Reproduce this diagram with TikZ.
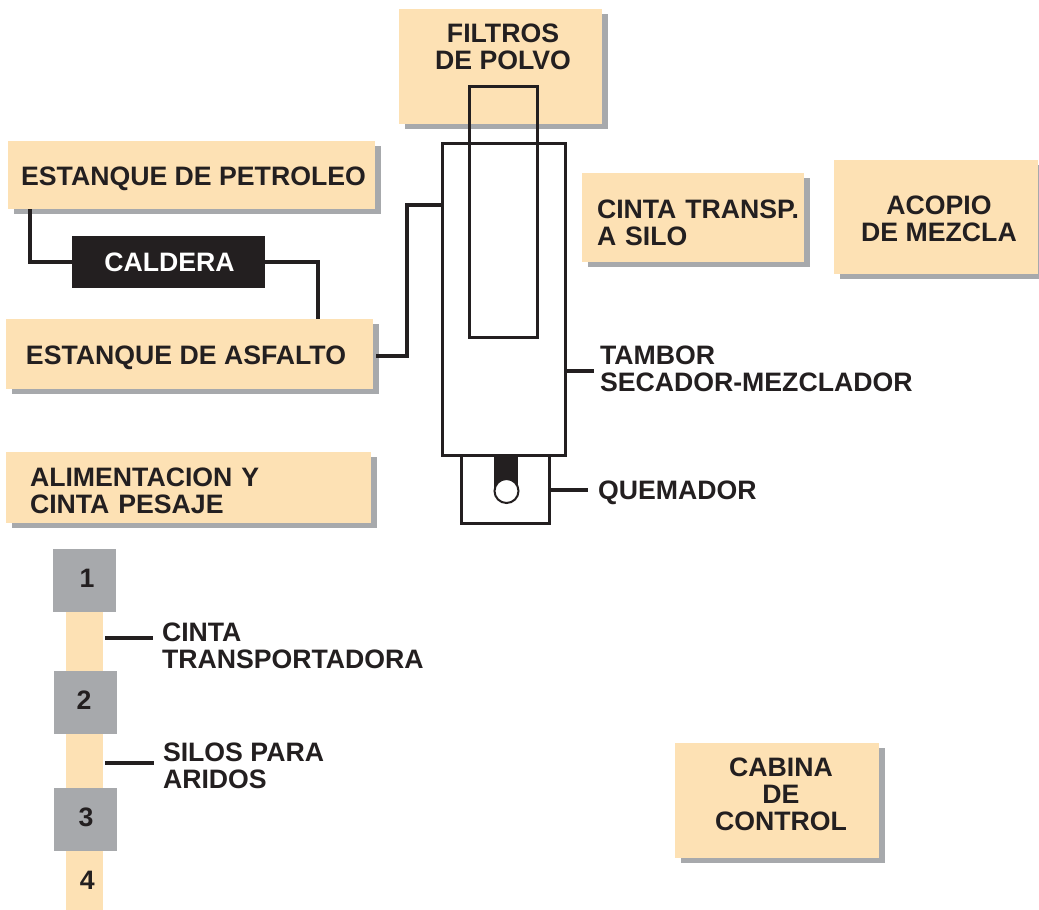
\documentclass[tikz,border=0pt]{standalone}
\usepackage{fontspec}
\setmainfont{Liberation Sans}
\usetikzlibrary{shadows}

\definecolor{tanfill}{HTML}{FDE1B4}
\definecolor{greyfill}{HTML}{A7A9AC}
\definecolor{inkblack}{HTML}{231F20}
\newcommand{\px}{0.75pt}
\newcommand{\nudge}[1]{\hspace*{\dimexpr #1pt*3/4\relax}}
\tikzset{
    every node/.style={font=\bfseries\fontsize{20}{20.2}\selectfont,text=inkblack,inner sep=0pt,outer sep=0pt,text depth=0pt},
    tagbox/.style 2 args={fill=tanfill,minimum width=#1*\px,minimum height=#2*\px,align=center,
        drop shadow={shadow xshift=6*\px,shadow yshift=-5*\px,fill=greyfill,opacity=1}},
    silo/.style={fill=greyfill,minimum width=63*\px,minimum height=63*\px,text depth=3pt},
    belt/.style={fill=tanfill,minimum width=37*\px,minimum height=#1*\px},
    outline/.style 2 args={draw=inkblack,line width=3*\px,minimum width=#1*\px,minimum height=#2*\px},
    pipe/.style={draw=inkblack,line width=4*\px},
    caption/.style={align=left,anchor=west}
}

\begin{document}
\begin{tikzpicture}[x=0.75pt,y=-0.75pt]
    \useasboundingbox (0,0) rectangle (1039,910);
    \coordinate (pipeA) at (30,240);
    \coordinate (pipeB) at (318,300);
    \coordinate (pipeC) at (407,205);
    \coordinate (pipeD) at (407,356);
    \coordinate (tickA) at (105,638);
    \coordinate (tickB) at (105,763);
    \coordinate (tickC) at (594,371);
    \coordinate (tickD) at (588,490);

    % text boxes
    \node[tagbox={203}{115},text depth=30pt] (filtros) at (500,66.5) {\nudge{6}FILTROS\\\nudge{6}DE POLVO};
    \node[tagbox={367}{68},text height=16.1pt] (petroleo) at (191.5,175) {\nudge{4}ESTANQUE DE PETROLEO};
    \node[tagbox={367}{70},text height=16.1pt] (asfalto) at (189.5,354) {ESTANQUE DE ASFALTO\nudge{7}};
    \node[tagbox={365}{71},text width=317*\px,align=left,text height=14.6pt,text depth=15.8pt] (alimentacion) at (188.5,487.5) {ALIMENTACION Y\\CINTA PESAJE};
    \node[tagbox={222}{89},text width=222*\px,align=left,text height=14.6pt,text depth=12.8pt] (cinta) at (693,217.5) {\nudge{15}CINTA TRANSP.\\\nudge{15}A SILO};
    \node[tagbox={204}{114},text height=37pt] (acopio) at (936,217) {\nudge{6}ACOPIO\\\nudge{6}DE MEZCLA};
    \node[tagbox={204}{115},text depth=9pt] (cabina) at (777,800.5) {\nudge{8}CABINA\\\nudge{8}DE\\\nudge{8}CONTROL};
    \node[fill=inkblack,text=white,minimum width=193*\px,minimum height=52.5*\px] (caldera) at (168.5,262) {\nudge{2}CALDERA};

    % silos and belt
    \node[belt=60] (beltA) at (84.75,641) {};
    \node[belt=54] (beltB) at (84.75,761) {};
    \node[belt=59] (beltC) at (84.75,880.5) {\nudge{5}4};
    \node[silo] (siloA) at (84.5,580.5) {\nudge{5}1};
    \node[silo] (siloB) at (85.5,702.5) {2\nudge{3}};
    \node[silo] (siloC) at (85.5,819.5) {\nudge{1}3};

    % drum, filter and burner
    \node[outline={123}{312}] (tambor) at (504,299) {};
    \node[outline={68}{251}] (filtro) at (503.5,211.5) {};
    \node[outline={88}{68.5}] (quemador) at (505.5,489.5) {};
    \fill[inkblack] (494,456) rectangle (518,491);
    \node[circle,draw=inkblack,fill=white,line width=2*\px,minimum size=24*\px] (llama) at (506.5,491) {};

    % captions
    \node[caption] (lblcinta) at (162,645.5) {CINTA\\TRANSPORTADORA};
    \node[caption] (lblsilos) at (163,765.5) {SILOS PARA\\ARIDOS};
    \node[caption] (lbltambor) at (600,368.5) {TAMBOR\\SECADOR-MEZCLADOR};
    \node[caption] (lblquemador) at (598,490) {QUEMADOR};

    % connectors
    \draw[pipe] (petroleo.south -| pipeA) |- (caldera.west);
    \draw[pipe] (caldera.east) -| (pipeB) -- (pipeB |- asfalto.north);
    \draw[pipe,shorten <=3*\px] (asfalto.east |- pipeD) -| (pipeC) -- (pipeC -| tambor.west);
    \draw[pipe,shorten >=9*\px] (tickA) -- (tickA -| lblcinta.west);
    \draw[pipe,shorten >=9*\px] (tickB) -- (tickB -| lblsilos.west);
    \draw[pipe] (tambor.east |- tickC) -- (tickC);
    \draw[pipe] (quemador.east |- tickD) -- (tickD);
\end{tikzpicture}
\end{document}
